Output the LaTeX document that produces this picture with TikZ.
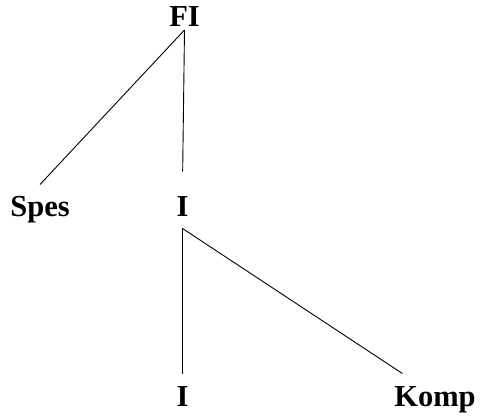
\documentclass[tikz,border=0pt]{standalone}
\usepackage{fontspec}
\setmainfont{Liberation Serif}
\usepackage{tikz}

\tikzset{
  word/.style={font=\bfseries\fontsize{30.5}{31}\selectfont,text height=21pt,text depth=0pt,
    inner sep=0pt,outer xsep=0pt,outer ysep=11.5pt,anchor=base},
  branch/.style={line width=0.9pt,black}
}

\begin{document}
\begin{tikzpicture}[x=1pt,y=-1pt]
  \useasboundingbox (0,0) rectangle (481,419);
  \node[word,outer ysep=3pt] (FI) at (184.5,27) {FI};
  \node[word] (Spes) at (40,217) {Spes};
  \node[word] (Imid) at (182.5,217) {I};
  \node[word] (Ilow) at (182.5,406) {I};
  \node[word] (Komp) at (435,406) {Komp};
  \draw[branch] (FI.south) -- (Spes.north);
  \draw[branch,shorten >=13pt] (FI.south) -- (Imid.north);
  \draw[branch] (Imid.south) -- (Ilow.north);
  \draw[branch] (Imid.south) -- (Komp.146);
\end{tikzpicture}
\end{document}
